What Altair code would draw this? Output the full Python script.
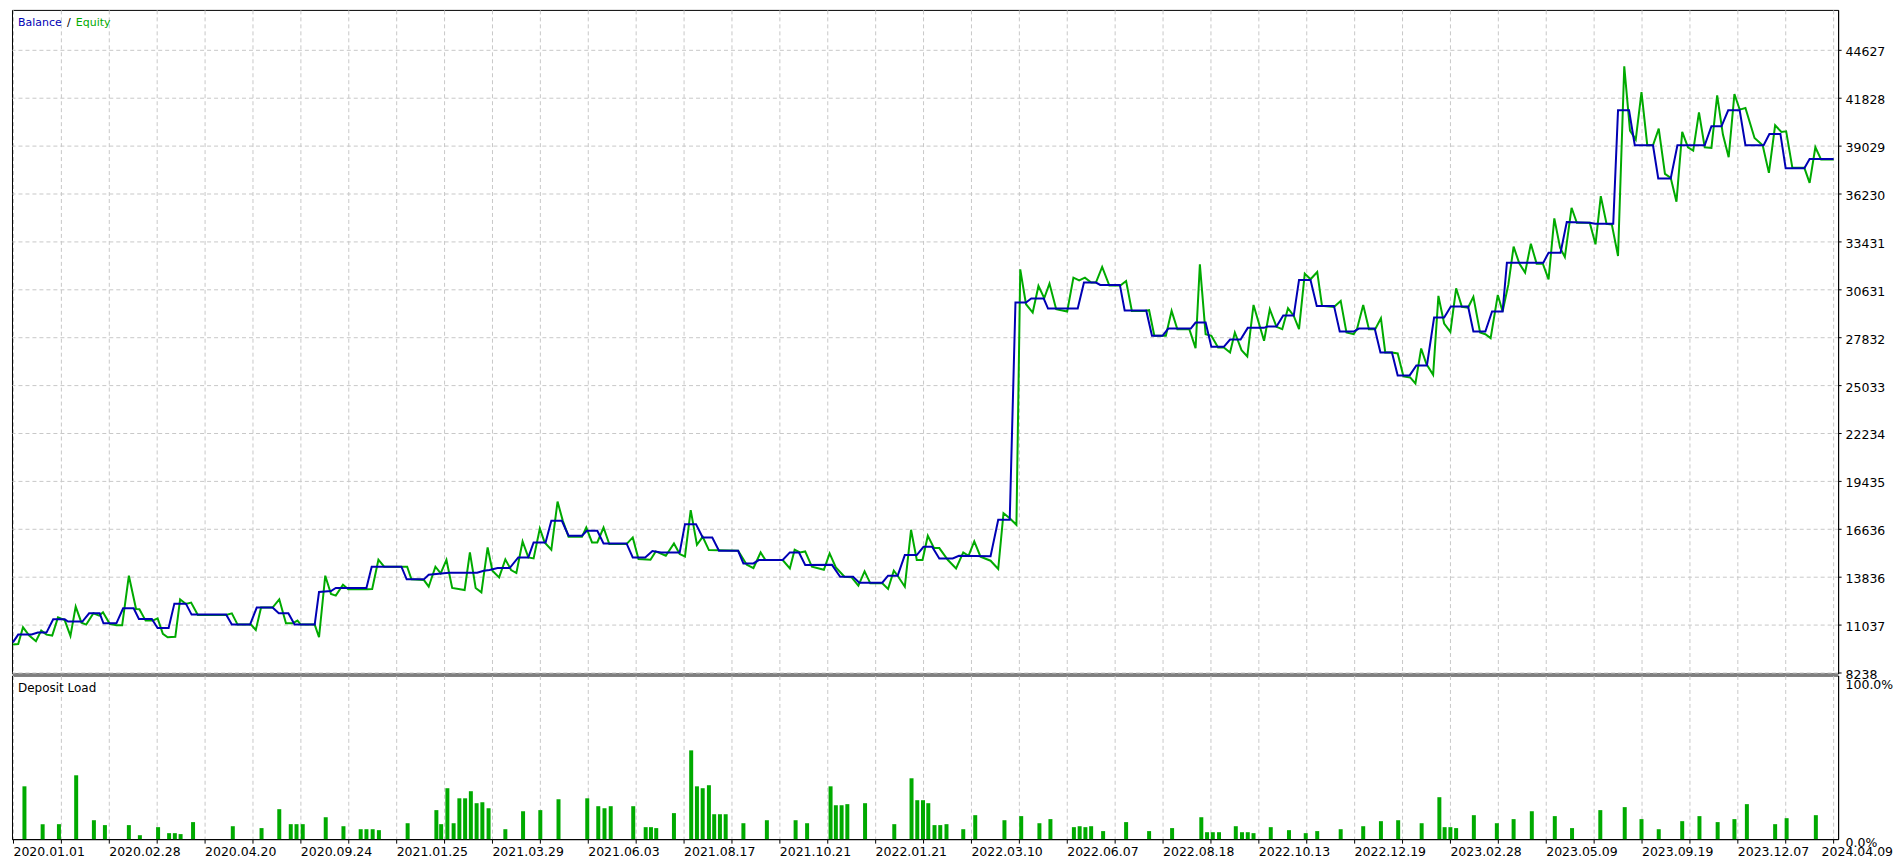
import altair as alt
import pandas as pd

# ---------------- data ----------------
date_labels = ["2020.01.01", "2020.02.28", "2020.04.20", "2020.09.24", "2021.01.25",
               "2021.03.29", "2021.06.03", "2021.08.17", "2021.10.21", "2022.01.21",
               "2022.03.10", "2022.06.07", "2022.08.18", "2022.10.13", "2022.12.19",
               "2023.02.28", "2023.05.09", "2023.09.19", "2023.12.07", "2024.04.09"]

y_ticks = [8238, 11037, 13836, 16636, 19435, 22234, 25033, 27832, 30631,
           33431, 36230, 39029, 41828, 44627]

balance_pos = [0.00, 0.11, 0.39, 0.52, 0.70, 0.84, 1.08, 1.15, 1.45, 1.59, 1.81, 1.89, 2.16, 2.30,
               2.52, 2.63, 2.90, 3.02, 3.25, 3.37, 3.61, 3.73, 4.45, 4.57, 4.95, 5.09, 5.42, 5.55,
               5.75, 5.88, 6.30, 6.39, 6.64, 6.74, 7.38, 7.49, 8.11, 8.22, 8.58, 8.68, 9.10, 9.69,
               9.83, 9.95, 10.12, 10.37, 10.55, 10.76, 10.87, 11.12, 11.24, 11.46, 11.60, 11.88,
               11.98, 12.20, 12.33, 12.81, 12.94, 13.20, 13.35, 13.53, 13.92, 14.03, 14.26, 14.40,
               14.60, 14.74, 15.14, 15.25, 15.46, 15.57, 16.07, 16.22, 16.41, 16.54, 17.10, 17.27,
               17.54, 17.67, 18.15, 18.27, 18.47, 18.62, 18.87, 19.01, 19.19, 19.34, 19.62, 19.75,
               20.41, 20.57, 20.81, 20.93, 21.15, 21.26, 21.52, 21.61, 22.23, 22.36, 22.61, 22.70,
               23.11, 23.21, 23.66, 23.78, 24.00, 24.12, 24.59, 24.69, 24.90, 25.02, 25.28, 25.41,
               25.63, 25.78, 26.12, 26.19, 26.38, 26.52, 26.74, 26.85, 27.09, 27.22, 27.58, 27.70,
               27.99, 28.10, 28.43, 28.55, 28.79, 28.91, 29.16, 29.30, 29.52, 29.67, 29.88, 30.02,
               30.38, 30.49, 30.74, 30.88, 31.10, 31.19, 31.95, 32.06, 32.31, 32.44, 32.92, 33.03,
               33.41, 33.51, 33.74, 33.86, 34.24, 34.35, 34.61, 34.75, 35.32, 35.46, 35.67, 35.81,
               36.05, 36.17, 36.55, 36.67, 36.90, 37.01, 37.40, 37.51, 38.01]
balance_val = [10000, 10454, 10454, 10570, 10570, 11346, 11346, 11212, 11212, 11696, 11696, 11113, 11113, 11988,
               11988, 11367, 11367, 10841, 10841, 12262, 12262, 11620, 11620, 11037, 11037, 12029, 12029, 11696,
               11696, 11037, 11037, 12943, 13000, 13176, 13176, 14419, 14419, 13680, 13680, 13953, 14070, 14070,
               14186, 14226, 14343, 14343, 14964, 14964, 15838, 15838, 17101, 17101, 16227, 16227,
               16519, 16519, 15778, 15778, 14964, 14964, 15334, 15254, 15254, 16907, 16907, 16130,
               16130, 15352, 15352, 14613, 14613, 14809, 14809, 15254, 15254, 14517, 14530, 13836,
               13836, 13486, 13486, 13894, 13894, 15100, 15100, 15585, 15585, 14905, 14905, 15060,
               15030, 17159, 17159, 29854, 29854, 30088, 30088, 29505, 29505, 31021, 31021, 30885,
               30885, 29388, 29388, 27911, 27911, 28338, 28338, 28688, 28688, 27269, 27269, 27697,
               27697, 28377, 28377, 28455, 28455, 29097, 29097, 31176, 31176, 29660, 29660, 28164,
               28164, 28338, 28338, 26939, 26939, 25598, 25598, 26181, 26181, 28980, 28980, 29621,
               29621, 28164, 28164, 29330, 29330, 32187, 32187, 32770, 32770, 34558, 34520, 34461,
               34461, 41090, 41090, 39049, 39049, 37105, 37105, 39049, 39049, 40156, 40156, 41090,
               41090, 39049, 39049, 39709, 39709, 37707, 37707, 38251, 38251]

equity_pos = [0.00, 0.11, 0.21, 0.34, 0.48, 0.59, 0.70, 0.82, 0.94, 1.08, 1.20, 1.31, 1.43, 1.53, 1.68,
              1.80, 1.88, 2.02, 2.16, 2.28, 2.42, 2.57, 2.64, 2.77, 2.92, 3.02, 3.13, 3.23, 3.39, 3.49,
              3.61, 3.72, 3.86, 4.45, 4.57, 4.69, 4.97, 5.07, 5.18, 5.42, 5.56, 5.70, 5.84, 5.94, 6.01,
              6.30, 6.39, 6.52, 6.64, 6.74, 6.89, 7.00, 7.40, 7.50, 7.63, 7.75, 8.23, 8.32, 8.58, 8.68,
              8.82, 8.93, 9.05, 9.17, 9.43, 9.54, 9.66, 9.78, 9.91, 10.01, 10.15, 10.28, 10.40, 10.51,
              10.64, 10.76, 10.87, 11.00, 11.10, 11.24, 11.37, 11.48, 11.60, 11.88, 11.97, 12.09, 12.20,
              12.33, 12.45, 12.81, 12.94, 13.06, 13.31, 13.42, 13.63, 13.80, 13.92, 14.03, 14.15, 14.28,
              14.40, 14.53, 15.14, 15.32, 15.46, 15.61, 15.71, 16.07, 16.22, 16.32, 16.43, 16.54, 16.68,
              16.93, 17.05, 17.18, 17.36, 17.51, 17.65, 17.78, 17.90, 18.15, 18.27, 18.39, 18.47, 18.62,
              18.75, 18.87, 18.99, 19.10, 19.23, 19.34, 19.52, 19.69, 19.84, 19.95, 20.07, 20.20, 20.41,
              20.57, 20.68, 20.81, 20.95, 21.03, 21.15, 21.29, 21.41, 21.53, 21.64, 21.78, 22.01, 22.14,
              22.26, 22.38, 22.51, 22.61, 22.74, 22.89, 23.12, 23.24, 23.36, 23.62, 23.72, 23.83, 24.07,
              24.19, 24.31, 24.56, 24.69, 24.78, 24.90, 25.02, 25.16, 25.28, 25.41, 25.51, 25.65, 25.77,
              25.90, 26.12, 26.24, 26.38, 26.50, 26.62, 26.74, 26.85, 26.97, 27.09, 27.23, 27.33, 27.58,
              27.72, 27.84, 27.99, 28.06, 28.19, 28.31, 28.44, 28.56, 28.65, 28.79, 28.91, 29.03, 29.17,
              29.28, 29.40, 29.51, 29.65, 29.76, 29.88, 30.01, 30.13, 30.25, 30.38, 30.49, 30.63, 30.74,
              30.85, 30.91, 31.00, 31.10, 31.22, 31.33, 31.45, 31.57, 31.69, 31.81, 31.94, 32.06, 32.18,
              32.30, 32.40, 32.54, 32.65, 32.92, 33.04, 33.15, 33.27, 33.38, 33.51, 33.64, 33.76, 33.88,
              34.00, 34.12, 34.24, 34.36, 34.49, 34.61, 34.73, 34.85, 34.97, 35.08, 35.20, 35.32, 35.46,
              35.58, 35.70, 35.82, 35.94, 36.05, 36.17, 36.36, 36.53, 36.66, 36.79, 36.92, 37.02, 37.15,
              37.40, 37.51, 37.63, 37.75, 38.01]
equity_val = [9871, 9900, 10880, 10400, 10063, 10687, 10450, 10396, 11462, 11300, 10376, 12087, 11150, 11037, 11696,
              11560, 11754, 11080, 10998, 10998, 13894, 11949, 11930, 11270, 11270, 11406, 10500, 10298, 10320, 12514,
              12240, 12320, 11601, 11601, 11696, 11037, 11037, 10726, 12029, 12029, 12514, 11113, 11113, 11270, 11037,
              11037, 10298, 13894, 12826, 12730, 13369, 13100, 13100, 13118, 14827, 14419, 14419, 13680, 13640, 13252,
              14419, 14030, 14827, 13176, 13059, 15254, 13176, 12923, 15545, 14186, 13797, 14847, 14226, 14051,
              15895, 14964, 14906, 16652, 15838, 15410, 18227, 17101, 16169, 16169, 16710, 15838, 15838,
              16710, 15740, 15740, 16130, 14867, 14828, 15313, 15060, 15778, 15158, 15020, 17723, 15702,
              16168, 15390, 15352, 14536, 14342, 15254, 14809, 14809, 14320, 15410, 15254, 15313, 14419,
              14244, 15196, 14380, 13836, 13797, 13311, 14145, 13447, 13447, 13118, 14186, 13894, 13252,
              16577, 14809, 14809, 16227, 15507, 15507, 14809, 14320, 15254, 15060, 15895, 15002, 14770,
              14284, 17548, 17256, 16868, 31798, 29757, 29271, 30826, 30107, 30962, 29466, 29330, 31312,
              31157, 31312, 31021, 31021, 31934, 30846, 30846, 31118, 29369, 29369, 29408, 27911, 27911,
              29369, 28300, 28300, 27191, 32090, 28008, 27911, 27231, 27231, 26939, 28105, 27075, 26706,
              29718, 27619, 29466, 28436, 28300, 29524, 29077, 28300, 31545, 31215, 31643, 29660, 29602,
              29952, 28105, 28008, 28300, 29718, 28300, 28300, 28941, 26939, 26939, 26880, 25539, 25480,
              25131, 27172, 26259, 25637, 30243, 28630, 28144, 30690, 29602, 29563, 30185, 28105, 28008,
              27775, 28786, 30300, 29330, 30900, 33120, 32129, 31604, 33295, 32129, 32129, 31215, 34772,
              33062, 32517, 35394, 34520, 34520, 33256, 36074, 34461, 34422, 32576, 43655, 39904, 39379,
              42158, 39049, 39049, 40020, 37377, 37144, 35744, 39826, 38932, 38737, 40973, 38932, 38893,
              41964, 39670, 38349, 42042, 41129, 41226, 39476, 39049, 37435, 40215, 39826, 39865, 37726,
              37726, 36852, 38932, 38212, 38212]

load_pos = [0.24, 0.62, 0.96, 1.32, 1.69, 1.92, 2.42, 2.65, 3.03, 3.26, 3.38, 3.50, 3.76, 4.59, 5.19,
            5.56, 5.80, 5.92, 6.05, 6.53, 6.90, 7.26, 7.38, 7.51, 7.64, 8.24, 8.84, 8.94, 9.07, 9.20,
            9.32, 9.44, 9.56, 9.68, 9.80, 9.93, 10.28, 10.65, 11.01, 11.39, 11.99, 12.22, 12.35, 12.48,
            12.95, 13.21, 13.32, 13.43, 13.80, 14.16, 14.28, 14.40, 14.53, 14.64, 14.76, 14.88, 15.25,
            15.74, 16.34, 16.58, 17.07, 17.18, 17.30, 17.42, 17.79, 18.40, 18.76, 18.88, 19.00, 19.11,
            19.24, 19.36, 19.49, 19.84, 20.09, 20.70, 21.05, 21.43, 21.66, 22.15, 22.27, 22.39, 22.51,
            22.76, 23.24, 23.72, 24.20, 24.81, 24.93, 25.05, 25.18, 25.53, 25.66, 25.78, 25.90, 26.26,
            26.64, 26.99, 27.23, 27.72, 28.19, 28.56, 28.92, 29.41, 29.78, 29.89, 30.01, 30.13, 30.50,
            30.98, 31.33, 31.71, 32.19, 32.55, 33.14, 33.65, 34.00, 34.36, 34.85, 35.21, 35.59, 35.94,
            36.20, 36.79, 37.03, 37.64]
load_pct = [33.5, 9.5, 9.5, 40.5, 12.0, 8.9, 8.9, 2.5, 7.6, 3.8, 3.8, 3.2, 10.8, 8.2, 7.0,
            19.0, 9.5, 9.5, 9.5, 13.9, 8.2, 6.3, 6.3, 6.3, 5.7, 10.1, 18.4, 9.5, 32.3, 10.1,
            25.9, 25.9, 30.4, 22.8, 23.4, 19.6, 6.3, 17.7, 18.4, 25.3, 25.9, 20.9, 19.6, 20.9,
            20.9, 7.6, 7.6, 7.0, 16.5, 56.3, 33.5, 32.3, 34.2, 15.8, 15.8, 15.8, 10.1,
            12.0, 12.0, 10.1, 33.5, 21.5, 21.5, 22.2, 22.8, 9.5, 38.6, 24.7, 24.7, 22.8,
            8.9, 8.9, 9.5, 6.3, 15.2, 12.0, 14.6, 10.1, 12.7, 7.6, 8.2, 7.6, 8.2,
            5.1, 10.8, 5.1, 7.0, 13.9, 4.4, 4.4, 4.4, 8.2, 4.4, 4.4, 3.8, 7.6,
            5.7, 3.8, 5.1, 6.3, 8.2, 11.4, 12.0, 10.1, 26.6, 7.6, 7.6, 7.0, 15.2,
            10.1, 12.7, 17.7, 14.6, 7.0, 18.4, 20.3, 12.7, 6.3, 11.4, 14.6, 10.8, 12.7,
            22.2, 9.5, 13.3, 15.2]

# ---------------- styling ----------------
FONT = "DejaVu Sans"
BLUE = "#0000B4"
GREEN = "#00AA00"
GRID = "#c8c8c8"
DASH = [4, 3]
W = 1830

bal = pd.DataFrame({"pos": balance_pos, "value": balance_val})
eq = pd.DataFrame({"pos": equity_pos, "value": equity_val})
load = pd.DataFrame({"pos": load_pos, "pct": load_pct})

grid_pos = list(range(39))
x_dom = [-0.02, 38.105]
x_scale = alt.Scale(domain=x_dom, nice=False, zero=False, padding=0)
y_scale = alt.Scale(domain=[8180, 46957], nice=False, zero=False)

label_array = "[" + ",".join("'" + d + "'" for d in date_labels) + "]"
label_expr = "datum.value % 2 == 0 ? " + label_array + "[datum.value / 2] : ''"

top_x_axis = alt.Axis(values=grid_pos, labels=False, ticks=False, domain=False, grid=True,
                      gridColor=GRID, gridDash=DASH, title=None)
top_y_axis = alt.Axis(orient="right", values=y_ticks, format="d", grid=True, gridColor=GRID,
                      gridDash=DASH, tickSize=3, labelPadding=4, labelOffset=2, title=None,
                      labelOverlap=False)

eq_line = alt.Chart(eq).mark_line(color=GREEN, strokeWidth=2).encode(
    x=alt.X("pos:Q", scale=x_scale, axis=top_x_axis),
    y=alt.Y("value:Q", scale=y_scale, axis=top_y_axis),
)
bal_line = alt.Chart(bal).mark_line(color=BLUE, strokeWidth=2).encode(
    x=alt.X("pos:Q", scale=x_scale),
    y=alt.Y("value:Q", scale=y_scale),
)

legend_bal = alt.Chart(pd.DataFrame({"t": ["Balance"]})).mark_text(
    align="left", baseline="middle", font=FONT, fontSize=11, color=BLUE
).encode(x=alt.value(6), y=alt.value(13), text="t:N")
legend_sep = alt.Chart(pd.DataFrame({"t": ["/"]})).mark_text(
    align="left", baseline="middle", font=FONT, fontSize=11, color="black"
).encode(x=alt.value(55), y=alt.value(13), text="t:N")
legend_eq = alt.Chart(pd.DataFrame({"t": ["Equity"]})).mark_text(
    align="left", baseline="middle", font=FONT, fontSize=11, color=GREEN
).encode(x=alt.value(64), y=alt.value(13), text="t:N")

top = alt.layer(eq_line, bal_line, legend_bal, legend_sep, legend_eq).properties(width=W, height=665)

bottom_x_axis = alt.Axis(values=grid_pos, labelExpr=label_expr, labelAlign="left", labelBaseline="top",
                         tickSize=4, labelPadding=2, grid=True, gridColor=GRID, gridDash=DASH,
                         title=None, labelOverlap=False, labelFlush=False,
                         labelOffset={"condition": {"test": "datum.value == 38", "value": -12},
                                      "value": 0})
bottom_y_axis = alt.Axis(orient="right", values=[0, 100], labelExpr="format(datum.value, '.1f') + '%'",
                         grid=False, ticks=False, labelPadding=7, labelOffset=3, title=None)

bars = alt.Chart(load).mark_bar(size=4, color=GREEN).encode(
    x=alt.X("pos:Q", scale=x_scale, axis=bottom_x_axis),
    y=alt.Y("pct:Q", scale=alt.Scale(domain=[0, 103.8], nice=False, padding=0), axis=bottom_y_axis),
)
load_title = alt.Chart(pd.DataFrame({"t": ["Deposit Load"]})).mark_text(
    align="left", baseline="middle", font=FONT, fontSize=12, color="black"
).encode(x=alt.value(6), y=alt.value(13), text="t:N")

bottom = alt.layer(bars, load_title).properties(width=W, height=164)

chart = alt.vconcat(top, bottom, spacing=2, bounds="flush").properties(
    padding={"left": 0, "top": 0, "right": 0, "bottom": 0}
).configure(background="white").configure_view(
    stroke="black", strokeWidth=1
).configure_axis(
    labelFont=FONT, labelFontSize=12.5, labelColor="black",
    domainColor="black", tickColor="black"
)

chart.save("out.html", embed_options={"renderer": "svg", "actions": False})
